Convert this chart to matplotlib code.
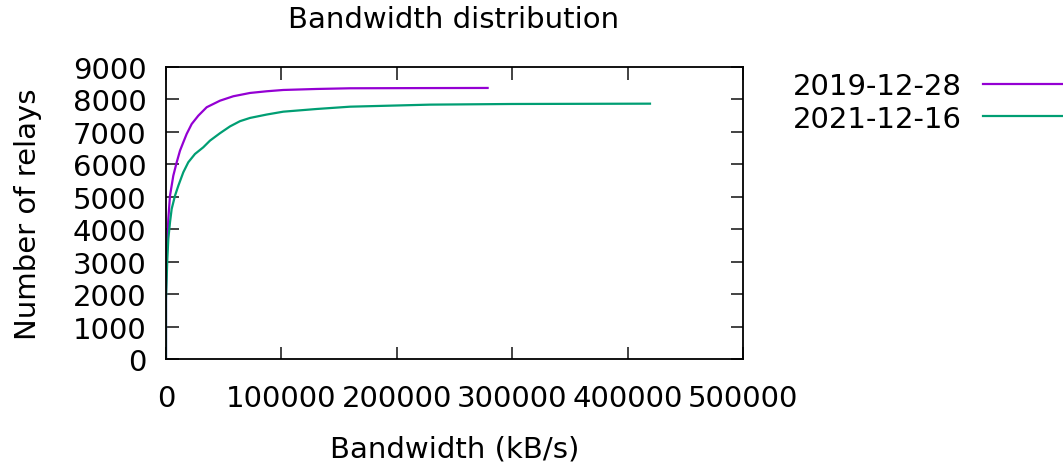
import matplotlib
matplotlib.use("Agg")
import matplotlib.pyplot as plt

# cumulative relay counts
bw_2019 = [0, 0, 600, 2000, 3470, 6330, 9270, 12130, 15000, 17900, 22270,
           28000, 35270, 46800, 58300, 72800, 87260, 101600, 130600, 159500,
           220000, 278700]
relays_2019 = [0, 2056, 3083, 4316, 5034, 5650, 6063, 6421, 6680, 6936, 7244,
               7500, 7760, 7962, 8098, 8200, 8252, 8292, 8323, 8344,
               8350, 8354]

bw_2021 = [0, 0, 1150, 2000, 3470, 4910, 7800, 10700, 15000, 19300, 25100,
           32300, 38100, 46800, 55500, 64100, 72800, 87300, 101600, 130600,
           159500, 228800, 299600, 419400]
relays_2021 = [0, 1850, 3083, 3700, 4214, 4624, 5034, 5342, 5755, 6063, 6319,
               6525, 6730, 6960, 7170, 7330, 7430, 7535, 7623, 7706,
               7777, 7840, 7860, 7870]

labels = ["2019-12-28", "2021-12-16"]
colors = ["#9400D3", "#009E73"]

fs = 21
fig = plt.figure(figsize=(10.63, 4.64), dpi=100)
ax = fig.add_axes([166 / 1063, 1 - 360 / 464, (743 - 166) / 1063, (360 - 68) / 464])

ax.plot(bw_2019, relays_2019, color=colors[0], lw=1.6, label=labels[0])
ax.plot(bw_2021, relays_2021, color=colors[1], lw=1.6, label=labels[1])

ax.set_xlim(0, 500000)
ax.set_ylim(0, 9000)
ax.set_xticks(range(0, 500001, 100000))
ax.set_yticks(range(0, 9001, 1000))
ax.tick_params(direction="in", length=9, width=1.2, top=True, right=True,
               labelsize=fs, color="#222222")
ax.tick_params(axis="x", pad=18)
ax.tick_params(axis="y", pad=14)
for s in ax.spines.values():
    s.set_linewidth(1.3)

ax.set_xlabel("Bandwidth (kB/s)", fontsize=fs, labelpad=16)
ax.set_ylabel("Number of relays", fontsize=fs, labelpad=22)
fig.text(454 / 1063, 1 - 20 / 464, "Bandwidth distribution", fontsize=fs,
         ha="center", va="center")

leg = fig.legend(loc="upper right", bbox_to_anchor=(1.0, 1 - 73 / 464),
                 frameon=False, markerfirst=False, fontsize=fs,
                 handlelength=2.75, handletextpad=0.72, labelspacing=0.16,
                 borderpad=0, borderaxespad=0)

fig.savefig("out.png", dpi=100)
